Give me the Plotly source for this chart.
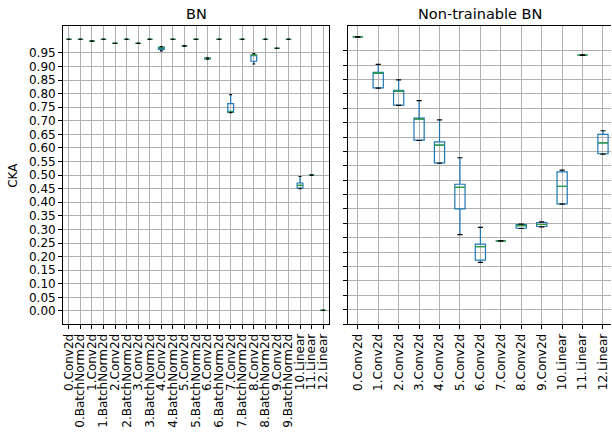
import numpy as np
import plotly.graph_objects as go

# ---- layer names -------------------------------------------------------
bn_layers = [
    "0.Conv2d", "0.BatchNorm2d", "1.Conv2d", "1.BatchNorm2d",
    "2.Conv2d", "2.BatchNorm2d", "3.Conv2d", "3.BatchNorm2d",
    "4.Conv2d", "4.BatchNorm2d", "5.Conv2d", "5.BatchNorm2d",
    "6.Conv2d", "6.BatchNorm2d", "7.Conv2d", "7.BatchNorm2d",
    "8.Conv2d", "8.BatchNorm2d", "9.Conv2d", "9.BatchNorm2d",
    "10.Linear", "11.Linear", "12.Linear",
]
nt_layers = [
    "0.Conv2d", "1.Conv2d", "2.Conv2d", "3.Conv2d", "4.Conv2d",
    "5.Conv2d", "6.Conv2d", "7.Conv2d", "8.Conv2d", "9.Conv2d",
    "10.Linear", "11.Linear", "12.Linear",
]

# ---- CKA box statistics: BN ---------------------------------------------
bn_low = [1.000, 1.000, 0.993, 1.000, 0.985, 1.000, 0.985, 1.000, 0.957, 1.000,
          0.976, 1.000, 0.927, 1.000, 0.730, 1.000, 0.909, 1.000, 0.967, 1.000,
          0.450, 0.500, 0.002]
bn_q1 = [1.000, 1.000, 0.993, 1.000, 0.985, 1.000, 0.985, 1.000, 0.963, 1.000,
         0.976, 1.000, 0.928, 1.000, 0.731, 1.000, 0.919, 1.000, 0.967, 1.000,
         0.452, 0.500, 0.002]
bn_med = [1.000, 1.000, 0.993, 1.000, 0.985, 1.000, 0.985, 1.000, 0.968, 1.000,
          0.976, 1.000, 0.930, 1.000, 0.733, 1.000, 0.941, 1.000, 0.967, 1.000,
          0.462, 0.500, 0.002]
bn_q3 = [1.000, 1.000, 0.993, 1.000, 0.985, 1.000, 0.985, 1.000, 0.971, 1.000,
         0.976, 1.000, 0.931, 1.000, 0.763, 1.000, 0.943, 1.000, 0.967, 1.000,
         0.471, 0.500, 0.002]
bn_high = [1.000, 1.000, 0.993, 1.000, 0.985, 1.000, 0.985, 1.000, 0.973, 1.000,
           0.976, 1.000, 0.932, 1.000, 0.796, 1.000, 0.947, 1.000, 0.967, 1.000,
           0.495, 0.500, 0.002]

# ---- CKA box statistics: Non-trainable BN -------------------------------
nt_low = [0.998, 0.820, 0.760, 0.638, 0.559, 0.311, 0.214, 0.289, 0.332, 0.338,
          0.417, 0.935, 0.591]
nt_q1 = [0.998, 0.821, 0.761, 0.639, 0.560, 0.400, 0.222, 0.289, 0.333, 0.339,
         0.418, 0.935, 0.592]
nt_med = [0.998, 0.873, 0.810, 0.713, 0.622, 0.475, 0.269, 0.289, 0.342, 0.346,
          0.479, 0.935, 0.630]
nt_q3 = [0.998, 0.875, 0.812, 0.716, 0.633, 0.486, 0.278, 0.289, 0.346, 0.353,
         0.529, 0.935, 0.659]
nt_high = [0.998, 0.903, 0.849, 0.777, 0.710, 0.578, 0.336, 0.289, 0.347, 0.355,
           0.535, 0.935, 0.672]

y_ticks = [round(v, 2) for v in np.arange(0.0, 1.0, 0.05)]
y_tick_text = [f"{v:.2f}" for v in y_ticks]

BLUE = "#1f77b4"
GREEN = "#2ca02c"
GRID = "#b0b0b0"
FONT = "DejaVu Sans"
W, H = 612, 436
BOX_W = 0.5
LW = 1.2


def segments(pos, vals, half):
    xs, ys = [], []
    for p, v in zip(pos, vals):
        xs += [p - half, p + half, None]
        ys += [v, v, None]
    return xs, ys


def add_boxes(fig, low, q1, med, q3, high, xa, ya):
    pos = list(range(1, len(q1) + 1))
    fig.add_trace(go.Box(
        x=pos, q1=q1, median=med, q3=q3, lowerfence=low, upperfence=high,
        width=BOX_W, whiskerwidth=0, boxpoints=False,
        line=dict(color=BLUE, width=LW), fillcolor="rgba(0,0,0,0)",
        xaxis=xa, yaxis=ya, showlegend=False, hoverinfo="skip",
    ))
    mx, my = segments(pos, med, BOX_W / 2)
    fig.add_trace(go.Scatter(x=mx, y=my, mode="lines",
                             line=dict(color=GREEN, width=LW),
                             xaxis=xa, yaxis=ya, showlegend=False,
                             hoverinfo="skip"))
    cx, cy = segments(pos + pos, list(low) + list(high), BOX_W / 4)
    fig.add_trace(go.Scatter(x=cx, y=cy, mode="lines",
                             line=dict(color="black", width=LW),
                             xaxis=xa, yaxis=ya, showlegend=False,
                             hoverinfo="skip"))


def padded(lo_vals, hi_vals):
    lo, hi = min(lo_vals), max(hi_vals)
    m = 0.05 * (hi - lo)
    return lo - m, hi + m


fig = go.Figure()
add_boxes(fig, bn_low, bn_q1, bn_med, bn_q3, bn_high, "x", "y")
add_boxes(fig, nt_low, nt_q1, nt_med, nt_q3, nt_high, "x2", "y2")

bn_lo, bn_hi = padded(bn_low, bn_high)
nt_lo, nt_hi = padded(nt_low, nt_high)
nt_lo = min(nt_lo, y_ticks[0])  # tick set extends the lower limit to 0

left_dom = [62.3 / W, 329.0 / W]
right_dom = [347.7 / W, 1.0]
y_dom = [1 - 324.0 / H, 1 - 25.7 / H]
px_per_cat = 20.5
right_hi = 0.5 + (W - 347.7) / px_per_cat

axis_common = dict(
    showgrid=True, gridcolor=GRID, gridwidth=0.8,
    showline=True, linecolor="black", linewidth=1,
    ticks="outside", ticklen=4, tickwidth=1, tickcolor="black",
    zeroline=False,
    tickfont=dict(family=FONT, size=12, color="black"),
)

fig.update_layout(
    width=W, height=H,
    margin=dict(l=0, r=0, t=0, b=0),
    paper_bgcolor="white", plot_bgcolor="white",
    font=dict(family=FONT, color="black"),
    xaxis=dict(domain=left_dom, range=[0.5, len(bn_layers) + 0.5],
               tickmode="array", tickvals=list(range(1, len(bn_layers) + 1)),
               ticktext=bn_layers, tickangle=-90, mirror=True, anchor="y",
               **axis_common),
    yaxis=dict(domain=y_dom, range=[bn_lo, bn_hi], tickmode="array",
               tickvals=y_ticks, ticktext=y_tick_text, mirror=True,
               anchor="x", **axis_common),
    xaxis2=dict(domain=right_dom, range=[0.5, right_hi],
                tickmode="array", tickvals=list(range(1, len(nt_layers) + 1)),
                ticktext=nt_layers, tickangle=-90, mirror=True, anchor="y2",
                **axis_common),
    yaxis2=dict(domain=y_dom, range=[nt_lo, nt_hi], tickmode="array",
                tickvals=y_ticks, showticklabels=False, mirror=False,
                anchor="x2", **axis_common),
)

title_y = 1 - 14.0 / H
fig.add_annotation(text="BN", x=(left_dom[0] + left_dom[1]) / 2, y=title_y,
                   xref="paper", yref="paper", showarrow=False,
                   xanchor="center", yanchor="middle",
                   font=dict(family=FONT, size=14.5, color="black"))
fig.add_annotation(text="Non-trainable BN", x=481.0 / W, y=title_y,
                   xref="paper", yref="paper", showarrow=False,
                   xanchor="center", yanchor="middle",
                   font=dict(family=FONT, size=14.5, color="black"))
fig.add_annotation(text="CKA", x=12.0 / W, y=(y_dom[0] + y_dom[1]) / 2,
                   xref="paper", yref="paper", showarrow=False, textangle=-90,
                   xanchor="center", yanchor="middle",
                   font=dict(family=FONT, size=12, color="black"))

fig.write_html("out.html")
